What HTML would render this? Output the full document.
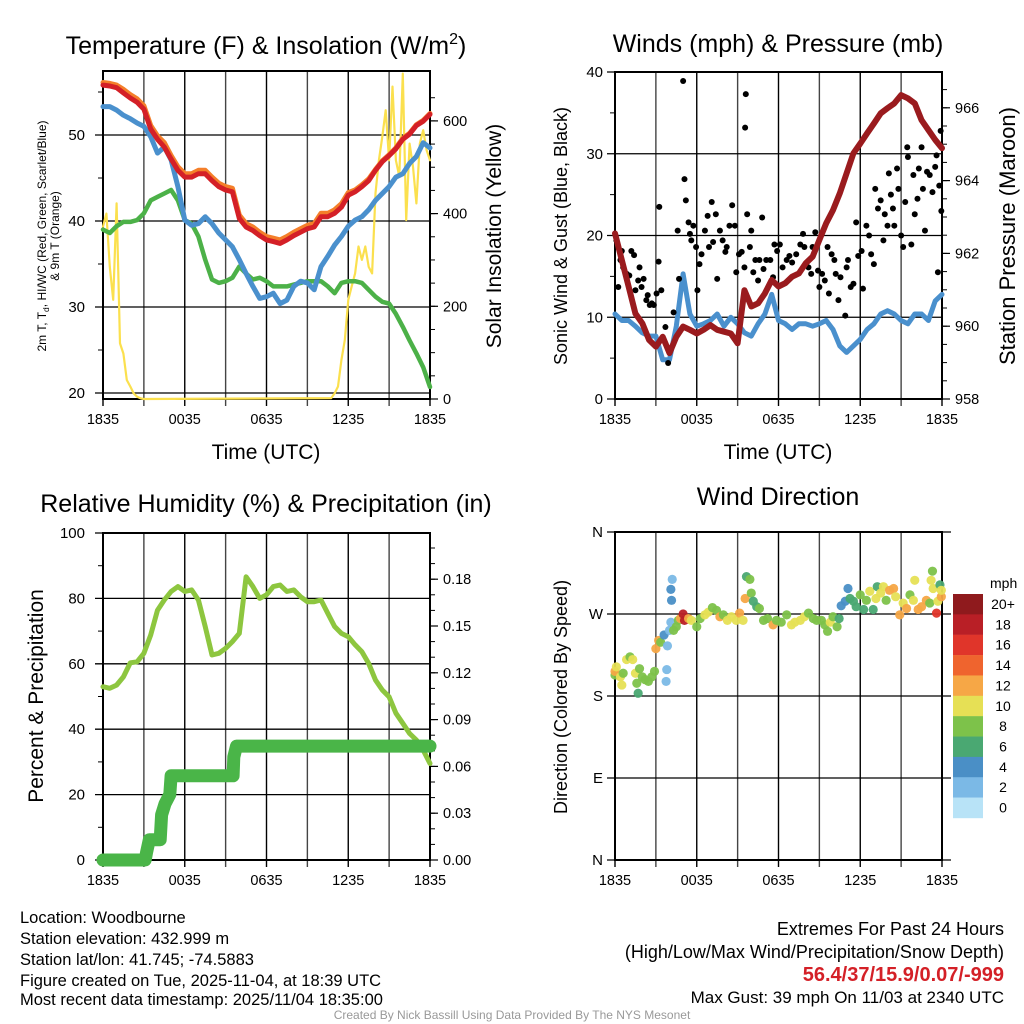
<!DOCTYPE html>
<html><head><meta charset="utf-8"><style>
html,body{margin:0;padding:0;background:#fff;}
svg{display:block;font-family:"Liberation Sans",Arial,sans-serif;}
</style></head><body>
<svg id="s" width="1024" height="1024" viewBox="0 0 1024 1024">
<g id="titles">
<text x="266" y="54" font-size="25" text-anchor="middle">Temperature (F) &amp; Insolation (W/m<tspan font-size="16" dy="-10">2</tspan><tspan dy="10">)</tspan></text>
<text x="778" y="52" font-size="25" text-anchor="middle">Winds (mph) &amp; Pressure (mb)</text>
<text x="266" y="512" font-size="25" text-anchor="middle">Relative Humidity (%) &amp; Precipitation (in)</text>
<text x="778" y="505" font-size="25" text-anchor="middle">Wind Direction</text>
<text x="266" y="459" font-size="21" text-anchor="middle">Time (UTC)</text>
<text x="778" y="459" font-size="21" text-anchor="middle">Time (UTC)</text>
<text transform="translate(46,236) rotate(-90)" font-size="12" text-anchor="middle">2m T, T<tspan font-size="8.5" baseline-shift="-3">d</tspan>, HI/WC (Red, Green, Scarlet/Blue)</text>
<text transform="translate(59,236) rotate(-90)" font-size="12" text-anchor="middle">&amp; 9m T (Orange)</text>
<text transform="translate(501,236) rotate(-90)" font-size="21" text-anchor="middle">Solar Insolation (Yellow)</text>
<text transform="translate(567,236) rotate(-90)" font-size="18" text-anchor="middle">Sonic Wind &amp; Gust (Blue, Black)</text>
<text transform="translate(1015,236) rotate(-90)" font-size="22" text-anchor="middle">Station Pressure (Maroon)</text>
<text transform="translate(43,696) rotate(-90)" font-size="21" text-anchor="middle">Percent &amp; Precipitation</text>
<text transform="translate(567,697) rotate(-90)" font-size="18" text-anchor="middle">Direction (Colored By Speed)</text>
</g>
<g id="info" font-size="16.5">
<text x="20" y="923">Location: Woodbourne</text>
<text x="20" y="944">Station elevation: 432.999 m</text>
<text x="20" y="965">Station lat/lon: 41.745; -74.5883</text>
<text x="20" y="986">Figure created on Tue, 2025-11-04, at 18:39 UTC</text>
<text x="20" y="1005">Most recent data timestamp: 2025/11/04 18:35:00</text>
<text x="1004" y="935" font-size="18" text-anchor="end">Extremes For Past 24 Hours</text>
<text x="1004" y="958" font-size="18" text-anchor="end">(High/Low/Max Wind/Precipitation/Snow Depth)</text>
<text x="1004" y="981" font-size="20" text-anchor="end" fill="#d42027" font-weight="bold">56.4/37/15.9/0.07/-999</text>
<text x="1004" y="1003" font-size="17" text-anchor="end">Max Gust: 39 mph On 11/03 at 2340 UTC</text>
<text x="512" y="1019" text-anchor="middle" font-size="12" fill="#999">Created By Nick Bassill Using Data Provided By The NYS Mesonet</text>
</g>
</svg>
<script>
// ---- data (hours since 18:35) ----
const xTickLabels = ["1835","0035","0635","1235","1835"];
const tempHours = [0,0.5,1,1.5,2,2.5,3,3.5,4,4.5,5,5.5,6,6.5,7,7.5,8,8.5,9,9.5,10,10.5,11,11.5,12,12.5,13,13.5,14,14.5,15,15.5,16,16.5,17,17.5,18,18.5,19,19.5,20,20.5,21,21.5,22,22.5,23,23.5,24];
const tempRed = [55.8,55.7,55.5,54.9,54.3,53.8,53,50.7,49.5,48.6,47.2,45.9,45.1,45.1,45.5,45.5,44.7,44,43.6,43.4,40.3,39.3,38.9,38.3,37.8,37.6,37.4,37.8,38.3,38.7,39.1,39.3,40.5,40.5,40.9,41.6,43,43.4,44,44.7,45.9,46.9,47.6,48.4,49.5,50.1,51.1,51.6,52.4];
const tempOrange = [56.1,56,55.8,55.3,54.7,54.2,53.4,51.1,49.9,49.1,47.6,46.3,45.5,45.5,45.9,45.9,45.1,44.4,44,43.8,40.7,39.7,39.3,38.7,38.2,38,37.8,38.2,38.7,39.1,39.5,39.7,40.9,40.9,41.3,42,43.3,43.6,44.2,44.9,46,47,47.7,48.5,49.6,50.2,51.2,51.7,52.5];
const tempBlue = [53.3,53.3,52.9,52.3,51.9,51.4,51,49.8,47.9,48.6,47.1,44,40.1,39.5,39.7,40.5,39.7,38.6,37.8,37,35.5,33.9,32.4,31,31.2,31.6,30.4,30.8,32.4,33,32.8,32,34.7,35.9,37.2,38.2,39.4,40.1,40.5,41.3,42.4,43.2,44,45.1,45.5,46.7,47.5,49.1,48.5];
const tempGreen = [39,38.6,39.4,39.9,39.9,40.1,40.9,42.4,42.8,43.2,43.6,42.4,40.1,39.7,38.2,35.5,33.2,32.8,33,33.4,34.7,33.9,33.2,33.4,33,32.4,32.4,32.4,32.6,32.8,33,33,33,32.4,31.6,32.8,33,33,32.8,32,31.2,30.6,30.4,29.2,27.7,26.1,24.6,23,20.7];
const solarHours = [0,0.25,0.5,0.75,1,1.25,1.5,1.75,2,2.25,2.5,2.75,3,16.75,17,17.25,17.5,17.75,18,18.25,18.5,18.75,19,19.25,19.5,19.75,20,20.25,20.5,20.75,21,21.25,21.5,21.75,22,22.25,22.5,22.75,23,23.25,23.5,23.75,24];
const solarValues = [372,400,285,214,422,120,98,41,27,12,5,1.5,0,2,12,27,84,127,214,243,271,329,300,329,285,271,444,515,566,623,515,674,515,480,702,386,551,501,422,551,580,537,515];
const pressureMb = [962.55,961.82,961.09,960.35,960.08,959.62,959.44,959.71,959.26,959.71,959.99,959.9,959.8,959.9,960.03,959.9,959.85,959.8,959.53,960.99,960.54,960.63,960.9,961.27,961.09,961.18,961.36,961.45,961.73,961.91,962.37,962.83,963.19,963.65,964.2,964.75,965.02,965.3,965.57,965.85,965.99,966.12,966.35,966.26,966.12,965.66,965.39,965.12,964.89];
const windMph = [10.4,9.6,9.6,8.9,8.1,7.7,7.7,4.8,4.8,8.9,15.3,10.4,8.9,9.2,9.6,10.4,8.9,10,9.2,8.1,7.7,9.2,10.4,12.8,9.6,9.2,8.5,9.2,9.2,8.9,9.2,9.6,8.5,6.5,5.7,6.5,7.3,8.5,9.2,10.4,10.8,10.4,9.6,9.2,10.4,10.4,9.6,12,12.8];
const gustHours = [0.1,0.4,0.5,0.24,0.6,0.86,1.05,1.2,1.4,1.5,1.7,1.8,1.95,2.1,2.3,2.4,2.55,2.7,2.85,3.05,3.2,3.25,3.4,3.7,3.9,4.3,4.6,4.7,5.0,5.1,5.2,5.4,5.5,5.6,5.75,5.95,6.05,6.2,6.35,6.6,6.8,6.9,7.1,7.2,7.4,7.5,7.7,7.9,8.1,8.2,8.4,8.6,8.8,8.9,9.1,9.3,9.5,9.55,9.6,9.7,9.9,10,10.15,10.3,10.5,10.6,10.8,10.9,11.1,11.4,11.6,11.7,11.9,12.1,12.3,12.6,12.8,13,13.3,13.6,13.8,13.9,14.2,14.4,14.5,14.7,14.9,15,15.2,15.4,15.6,15.7,15.9,16.1,16.2,16.4,16.55,16.9,17,17.1,17.3,17.5,17.7,17.85,18.1,18.2,18.45,18.65,18.8,19,19.1,19.3,19.5,19.7,19.8,20,20.1,20.25,20.4,20.5,20.7,20.8,21,21.15,21.3,21.45,21.5,21.75,21.9,22,22.2,22.3,22.5,22.6,22.75,22.9,23.1,23.3,23.5,23.6,23.7,23.8,23.9,23.95];
const gustMph = [19.4,17,18.1,13.7,16.1,15.3,15.1,18.1,17.6,13.3,14.5,16.1,13.7,14.7,12.1,12.7,11.5,11.7,11.5,12.9,16.8,23.5,13.3,8.8,4.4,10.6,20.6,14.7,38.9,26.9,24.3,21.6,20.2,19.4,21.2,18.6,13.3,16.5,17.7,20.6,22.4,18.6,24.1,19.2,22.6,14.7,20.6,19.4,18,18.6,21.2,23.7,21.2,15.5,17.7,18,16.1,33.2,37.3,22.6,18.6,20.6,15.5,17,14.5,17,22.2,15.9,17,17,14.9,18.9,18.1,18.9,16.1,17,17.5,16.7,17.7,18.9,20.2,18.6,16.1,15.3,18.6,20.4,15.7,13.7,15.3,14.5,18.6,12.9,17.7,17,15.3,12.1,14.9,10.2,16.1,17,13.7,14.1,21.6,17.5,18.1,13.5,21.2,20,17.7,16.5,25.7,23.3,24.3,19.4,22.6,21.2,27.6,25,23.3,21.2,28.2,25.7,20,18.6,24.1,30.8,29.6,18.9,27.4,22.6,24.5,28.2,30.8,25.7,20.6,27.8,27.4,25.3,28.4,29.8,15.5,26.1,32.8,23];
const rhPct = [53,52.5,53.5,56,60.3,60.6,63.2,68.8,76.4,79.5,82.1,83.6,82.1,82.6,79.5,71.4,62.7,63.2,64.7,66.8,69.3,86.6,83.6,80,81.1,83.6,84.1,82.1,82.6,80.5,79,79,79.5,75.4,71.4,69.3,68.3,65.8,63.7,60.1,55,52,49.9,44.9,41.8,38.7,36.7,33.6,29.5];
const precipHours = [0,3.1,3.2,3.4,4.2,4.3,4.55,4.9,5.0,9.55,9.6,9.8,24];
const precipIn = [0,0,0.005,0.013,0.013,0.029,0.036,0.042,0.054,0.054,0.066,0.073,0.073];
const dirHours = [0,0,0.1,0.4,0.5,0.6,0.85,1.1,1.3,1.5,1.6,1.7,1.8,2.0,2.2,2.45,2.7,2.9,3.0,3.2,3.35,3.6,3.75,3.8,3.85,4.0,4.1,4.15,4.1,4.2,4.3,4.5,4.65,4.8,5.0,5.1,5.4,5.6,6.0,6.25,6.6,6.85,7.15,7.45,7.7,7.95,8.25,8.55,8.9,9.15,9.4,9.55,9.65,9.9,10,10.15,10.4,10.6,10.9,11.2,11.6,11.85,12.2,12.6,12.95,13.2,13.6,13.9,14.2,14.55,14.8,15.15,15.4,15.6,15.8,16,16.3,16.45,16.6,16.9,17.1,17.25,17.5,17.7,18.0,18.25,18.45,18.7,18.95,19.15,19.25,19.5,19.7,19.9,20.15,20.45,20.6,20.9,21.15,21.4,21.65,21.9,22,22.25,22.5,22.85,23.1,23.2,23.35,23.3,23.6,23.7,23.85,23.95,23.95];
const dirDeg = [203,207,212,201,192,205,220,223,220,205,194,183,210,201,198,196,201,207,232,241,239,247,196,209,235,252,261,285,297,308,252,256,263,265,270,263,265,263,256,265,269,272,277,274,267,269,263,267,263,271,263,287,311,308,293,284,278,276,263,265,258,263,261,269,258,261,263,267,271,265,263,263,258,251,261,267,256,265,279,284,298,287,284,278,291,275,285,295,275,287,300,293,300,285,296,298,289,269,282,276,291,285,307,275,278,285,282,307,298,317,271,284,302,289,296];
const dirSpeed = [8,12,10,10,10,8,10,8,10,10,8,6,8,8,8,8,8,8,12,12,8,4,2,2,2,2,2,4,4,2,8,8,8,12,18,18,12,10,8,8,10,10,8,8,12,8,10,10,10,12,10,12,6,8,8,6,6,8,8,8,12,8,8,8,10,10,10,10,8,8,8,8,8,8,10,8,8,6,4,4,4,6,6,6,8,6,8,10,6,10,6,10,10,8,12,12,10,12,10,12,8,10,10,12,12,12,8,10,10,8,16,10,6,12,10];
const speedBinLabels = ["0","2","4","6","8","10","12","14","16","18","20+"];
const speedColors = ["#b8e3f7","#7bb9e6","#4a8fc6","#4aa872","#7dc24a","#e6e055","#f6a746","#ef642e","#e0352a","#b91f26","#8f1a1d"];

// ---- helpers ----
const NS="http://www.w3.org/2000/svg";
const svg=document.getElementById('s');
function mk(tag,attrs,parent){const e=document.createElementNS(NS,tag);for(const k in attrs)e.setAttribute(k,attrs[k]);(parent||svg).appendChild(e);return e;}
function xScale(x0,x1){return h=>x0+(x1-x0)*h/24;}

function frame(p,name){
  const g=mk('g',{});
  
  
  const xs=xScale(p.x0,p.x1);
  for(let i=0;i<=8;i++){
    const x=xs(i*3);
    const l=mk('line',{x1:x,x2:x,y1:p.y0,y2:p.y1+7,stroke:(i%2?'#444':'#000'),'stroke-width':1.4},g);
    
    
    if(i%2===0){
      const t=mk('text',{x:x,y:p.y1+25,'font-size':14.5,'text-anchor':'middle'},g);
      t.textContent=xTickLabels[i/2];
      
      
    }
  }
  p.yGrid.forEach(v=>{const y=p.ly(v);mk('line',{x1:p.x0-8,x2:p.x1+(p.gridExt||0),y1:y,y2:y,stroke:'#000','stroke-width':1.3},g);});
  (p.yMinor||[]).forEach(v=>{const y=p.ly(v);mk('line',{x1:p.x0-5,x2:p.x0,y1:y,y2:y,stroke:'#000','stroke-width':1},g);});
  p.yLabels.forEach((lab,i)=>{const t=mk('text',{x:p.x0-(p.lpad||18),y:p.ly(p.yGrid[i])+5,'font-size':15,'text-anchor':'end'},g);t.textContent=lab;
    
    });
  if(p.ry){
    p.rTicks.forEach((v,i)=>{const y=p.ry(v);mk('line',{x1:p.x1,x2:p.x1+8,y1:y,y2:y,stroke:'#000','stroke-width':1.2},g);
      const t=mk('text',{x:p.x1+13,y:y+5,'font-size':14.5},g);t.textContent=p.rLabels[i];
      
      });
    (p.rMinor||[]).forEach(v=>{const y=p.ry(v);mk('line',{x1:p.x1,x2:p.x1+5,y1:y,y2:y,stroke:'#000','stroke-width':1},g);});
  }
  mk('rect',{x:p.x0,y:p.y0,width:p.x1-p.x0,height:p.y1-p.y0,fill:'none',stroke:'#000','stroke-width':2},g);
  return xs;
}
function line(xs,ys,hrs,vals,color,w,name){
  const d=hrs.map((h,i)=>(i?'L':'M')+xs(h).toFixed(1)+','+ys(vals[i]).toFixed(1)).join('');
  const e=mk('path',{d:d,fill:'none',stroke:color,'stroke-width':w,'stroke-linejoin':'round','stroke-linecap':'round'});
  
  
  return e;
}
function range(a,b,s){const r=[];for(let v=a;v<=b+1e-9;v+=s)r.push(+v.toFixed(4));return r;}

// ---- Panel 1: temperature ----
const P1={x0:103,x1:430,y0:71,y1:399};
P1.ly=v=>393-(v-20)*8.6;
P1.ry=v=>399-v*0.4635;
P1.yGrid=[20,30,40,50];P1.yLabels=["20","30","40","50"];P1.yMinor=[25,35,45,55];
P1.rTicks=[0,200,400,600];P1.rLabels=["0","200","400","600"];P1.rMinor=range(50,650,50);
const xs1=frame(P1,'temperature');
line(xs1,P1.ry,solarHours,solarValues,'#fbe04e',2.2,'solar-insolation-line');
line(xs1,P1.ly,tempHours,tempGreen,'#4cb148',4.5,'dewpoint-line');
line(xs1,P1.ly,tempHours,tempBlue,'#4a90cd',5,'heat-index-wind-chill-line');
line(xs1,P1.ly,tempHours,tempOrange,'#f47f2a',5,'temperature-9m-line');
line(xs1,P1.ly,tempHours,tempRed,'#d42027',5,'temperature-2m-line');

// ---- Panel 2: winds ----
const P2={x0:615,x1:942,y0:72,y1:399,lpad:12};
P2.ly=v=>399-v*8.175;
P2.ry=v=>399-(v-958)*36.4;
P2.yGrid=[0,10,20,30,40];P2.yLabels=["0","10","20","30","40"];P2.yMinor=[5,15,25,35];
P2.rTicks=[958,960,962,964,966];P2.rLabels=["958","960","962","964","966"];P2.rMinor=range(958.5,966.5,0.5);
const xs2=frame(P2,'winds');
line(xs2,P2.ly,tempHours,windMph,'#4a90cd',5,'sonic-wind-line');
gustHours.forEach((h,i)=>{const c=mk('circle',{cx:xs2(h),cy:P2.ly(gustMph[i]),r:3,fill:'#000'});
  
  });
line(xs2,P2.ry,tempHours,pressureMb,'#9a1b1e',6,'pressure-line');

// ---- Panel 3: RH & precip ----
const P3={x0:103,x1:430,y0:533,y1:860};
P3.ly=v=>860-v*3.27;
P3.ry=v=>860-v*1560;
P3.yGrid=[0,20,40,60,80,100];P3.yLabels=["0","20","40","60","80","100"];P3.yMinor=[10,30,50,70,90];
P3.rTicks=[0,0.03,0.06,0.09,0.12,0.15,0.18];P3.rLabels=["0.00","0.03","0.06","0.09","0.12","0.15","0.18"];P3.rMinor=range(0.01,0.2,0.01);
const xs3=frame(P3,'humidity');
line(xs3,P3.ly,tempHours,rhPct,'#8dc63f',5,'relative-humidity-line');
line(xs3,P3.ry,precipHours,precipIn,'#4ab548',13,'precipitation-line');

// ---- Panel 4: wind direction ----
const P4={x0:615,x1:942,y0:532,y1:860,gridExt:9,lpad:12};
P4.ly=v=>860-v*328/360;
P4.yGrid=[0,90,180,270,360];P4.yLabels=["N","E","S","W","N"];
const xs4=frame(P4,'wind-direction');
dirHours.forEach((h,i)=>{const b=Math.min(10,Math.floor(dirSpeed[i]/2));
  const c=mk('circle',{cx:xs4(h),cy:P4.ly(dirDeg[i]),r:4.6,fill:speedColors[b],'fill-opacity':0.95});
  
  });
// colorbar
const cb=mk('g',{});


const lt=mk('text',{x:990,y:588,'font-size':14},cb);lt.textContent='mph';
speedColors.forEach((c,i)=>{const k=10-i;const y=594+i*20.36;
  mk('rect',{x:953,y:y,width:30,height:20.6,fill:speedColors[k]},cb);
  const t=mk('text',{x:1003,y:y+15,'font-size':14,'text-anchor':'middle'},cb);t.textContent=speedBinLabels[k];
  
  });
</script>
</body></html>
